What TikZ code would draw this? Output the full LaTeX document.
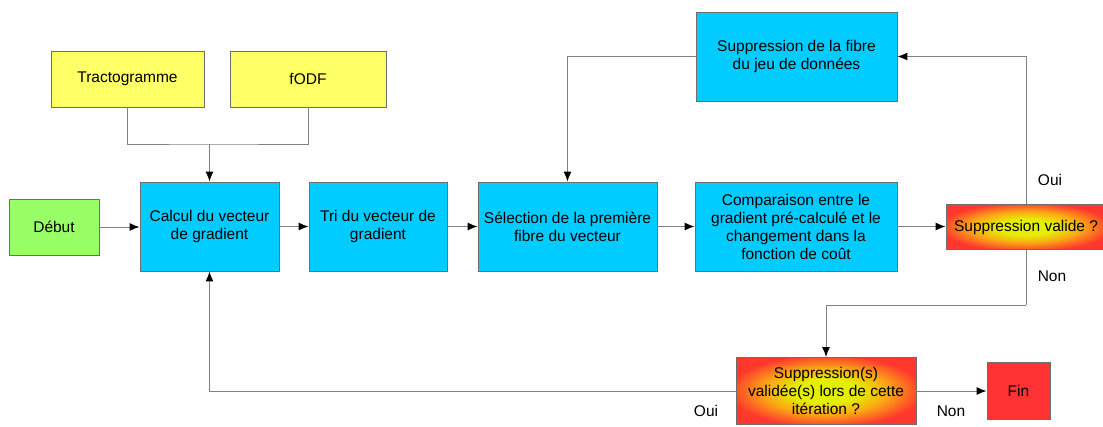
\documentclass[tikz,border=0pt]{standalone}
\usepackage{fontspec}
\setmainfont{Liberation Sans}
\usetikzlibrary{arrows.meta}
\definecolor{cyel}{HTML}{FFFF66}
\definecolor{cgrn}{HTML}{99FF66}
\definecolor{cblu}{HTML}{00CCFF}
\definecolor{cred}{HTML}{FF3333}
\definecolor{gin}{RGB}{228,238,0}
\definecolor{gmid}{RGB}{250,170,20}
\definecolor{gout}{RGB}{255,55,45}
\definecolor{cline}{HTML}{808080}
\definecolor{cbord}{HTML}{6E6E6E}
\pgfdeclareradialshading{myrad}{\pgfpoint{0bp}{0bp}}{color(0bp)=(gin); color(9bp)=(gin); color(17bp)=(gmid); color(27bp)=(gout); color(50bp)=(gout)}
\begin{document}
\begin{tikzpicture}[x=1pt,y=-1pt,
  box/.style={draw=cbord,line width=0.9pt,inner sep=2pt,align=center,
    font=\fontsize{15.5}{18}\selectfont},
  grad/.style={box,shading=myrad},
  conn/.style={draw=cline,line width=1pt},
  arr/.style={conn,-{Latex[length=10pt,width=8pt,color=black]}},
  lbl/.style={font=\fontsize{15.5}{18}\selectfont,inner sep=0pt}]
\useasboundingbox (0,0) rectangle (1103,426);
\node[box,fill=cyel,minimum width=153pt,minimum height=56pt] (trac) at (127.5,79) {Tractogramme};
\node[box,fill=cyel,minimum width=156pt,minimum height=56pt] (fodf) at (308,79) {fODF};
\node[box,fill=cgrn,minimum width=90pt,minimum height=56pt] (debut) at (54,227) {Début};
\node[box,fill=cblu,minimum width=139pt,minimum height=89pt] (calc) at (209.5,226.5) {Calcul du vecteur\\de gradient};
\node[box,fill=cblu,minimum width=138pt,minimum height=89pt] (tri) at (378,226.5) {Tri du vecteur de\\gradient};
\node[box,fill=cblu,minimum width=179pt,minimum height=89pt] (sel) at (567.5,226.5) {Sélection de la première\\fibre du vecteur};
\node[box,fill=cblu,minimum width=202pt,minimum height=89pt] (comp) at (796,226.5) {Comparaison entre le\\gradient pré-calculé et le\\changement dans la\\fonction de coût};
\node[grad,minimum width=160pt,minimum height=45pt] (valid) at (1026,227) {Suppression valide ?};
\node[box,fill=cblu,minimum width=201pt,minimum height=89pt] (supf) at (796.5,56.5) {Suppression de la fibre\\du jeu de données};
\node[grad,minimum width=180pt,minimum height=67pt] (supps) at (826,391) {Suppression(s)\\validée(s) lors de cette\\itération ?};
\node[box,fill=cred,minimum width=63pt,minimum height=57pt] (fin) at (1018.5,391) {Fin};
\coordinate (j1) at (209.5,144);
\coordinate (j2) at (1026,305);
\draw[conn] (trac.south) |- (j1) -| (fodf.south);
\draw[arr] (j1) -- (calc.north);
\draw[arr] (debut.east) -- (debut.east -| calc.west);
\draw[arr] (calc) -- (tri);
\draw[arr] (tri) -- (sel);
\draw[arr] (sel) -- (comp);
\draw[arr] (comp.east) -- (comp.east -| valid.west);
\draw[arr] (valid.north) |- (supf.east);
\draw[arr] (supf.west) -| (sel.north);
\draw[conn] (valid.south) -- (j2);
\draw[arr] (j2) -| (supps.north);
\draw[arr] (supps.west) -| (calc.south);
\draw[arr] (supps) -- (fin);
\node[lbl] (oui1) at (1050,180) {Oui};
\node[lbl] (non1) at (1052,276) {Non};
\node[lbl] (oui2) at (706,411) {Oui};
\node[lbl] (non2) at (951,411) {Non};
\end{tikzpicture}
\end{document}
